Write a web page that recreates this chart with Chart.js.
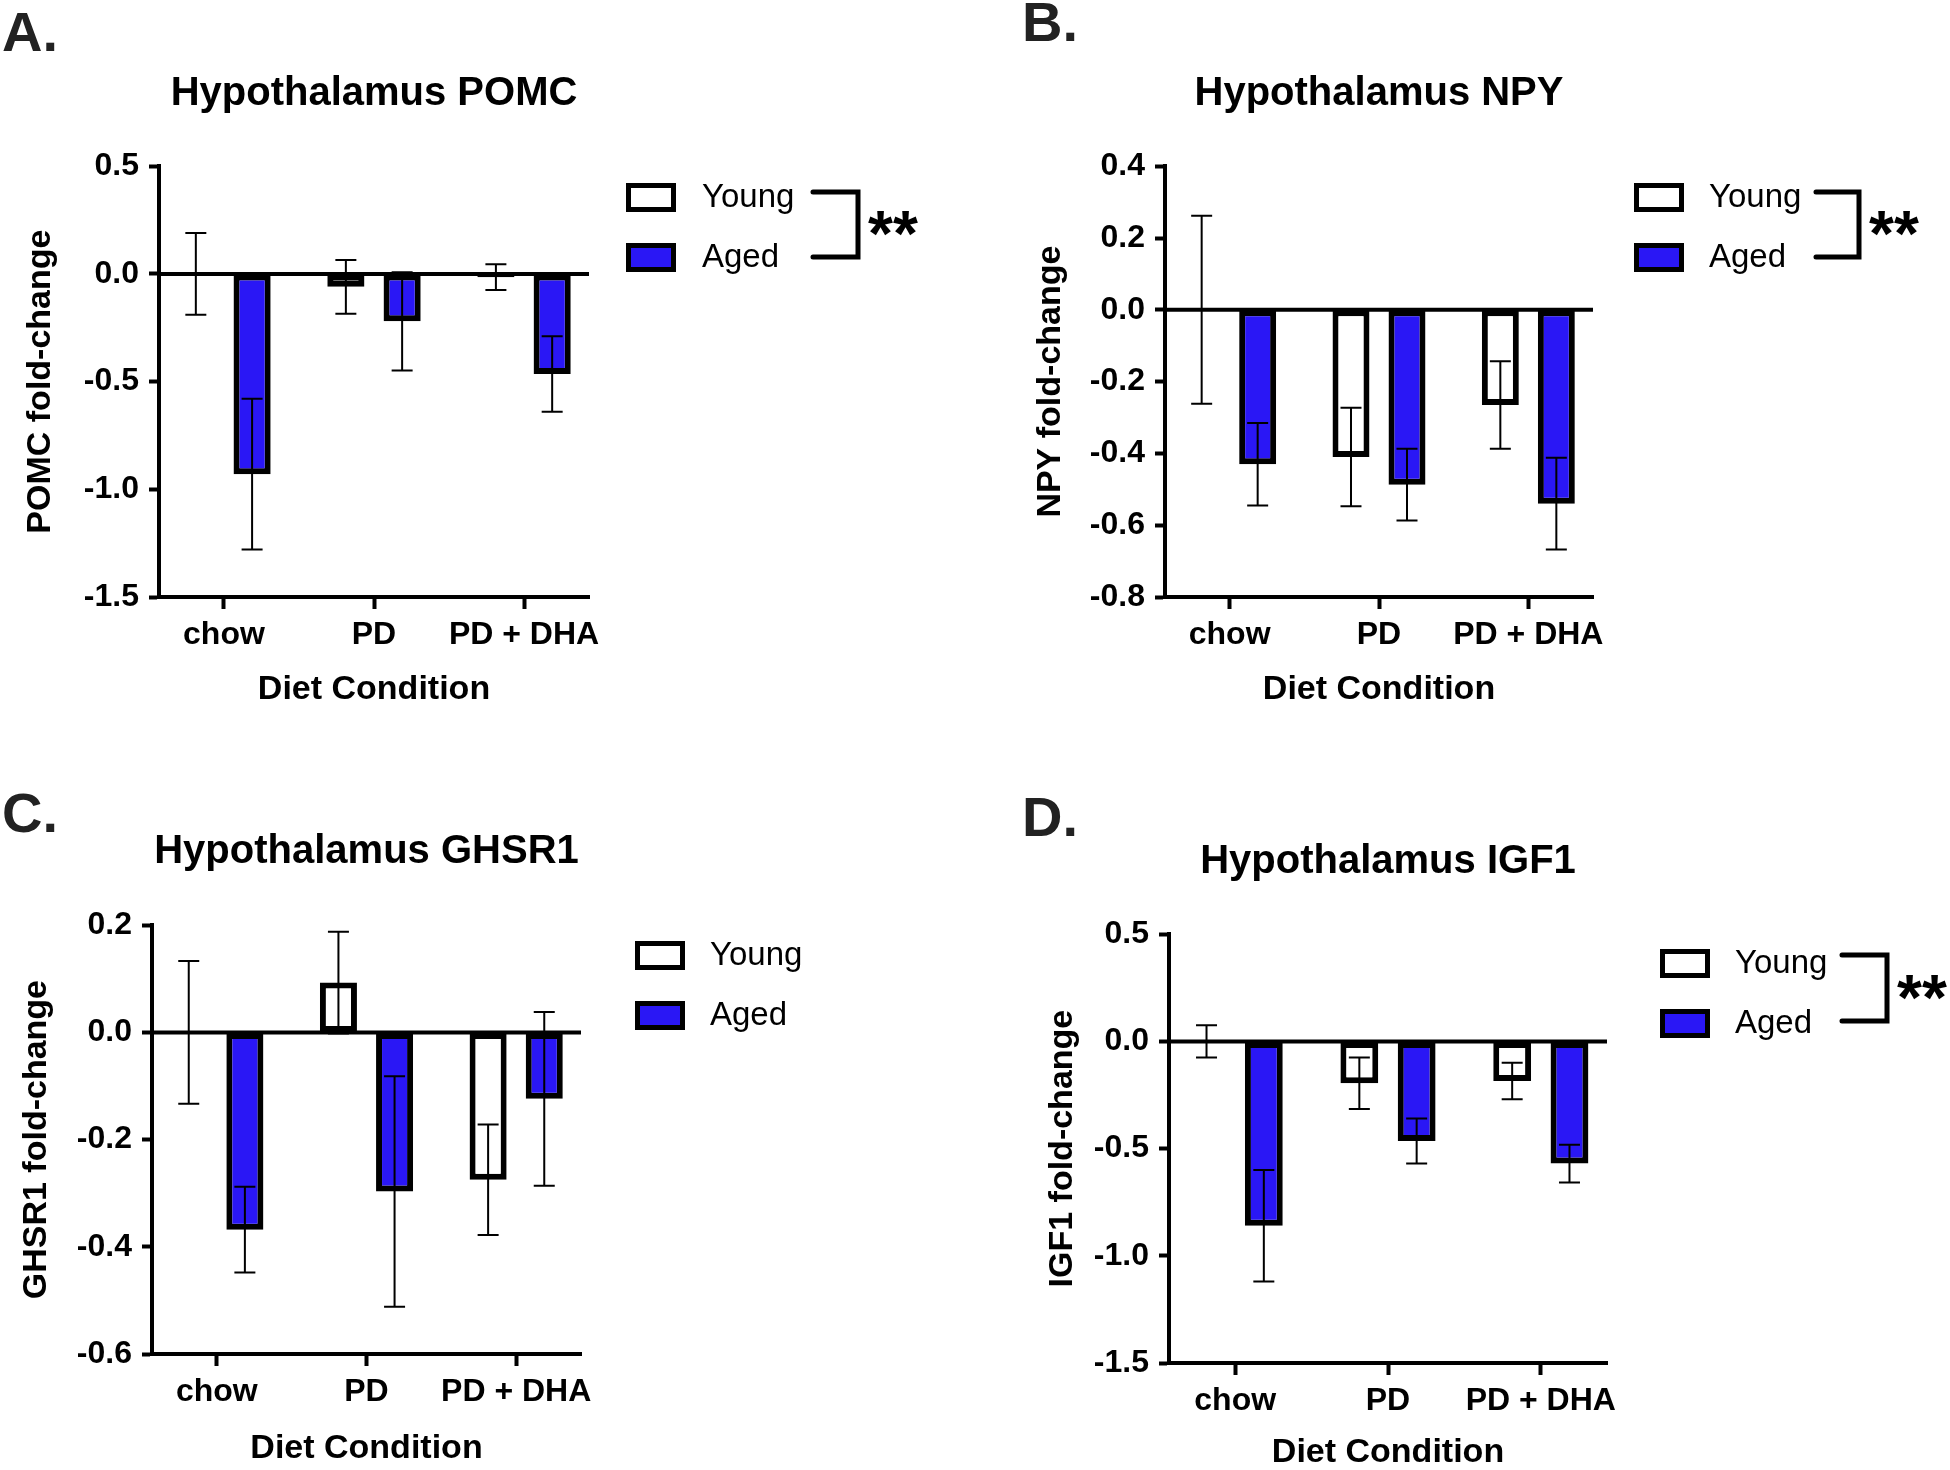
<!DOCTYPE html>
<html lang="en">
<head>
<meta charset="UTF-8" />
<title>Hypothalamus gene expression</title>
<script src="https://cdn.jsdelivr.net/npm/chart.js@4.4.1/dist/chart.umd.min.js"></script>
<style>
  body { margin: 0; background: #fff; width: 1950px; height: 1470px; position: relative; overflow: hidden; }
  canvas { position: absolute; }
</style>
</head>
<body>
<canvas id="panelA" width="975" height="735" style="left:0;top:0"></canvas>
<canvas id="panelB" width="975" height="735" style="left:975px;top:0"></canvas>
<canvas id="panelC" width="975" height="735" style="left:0;top:735px"></canvas>
<canvas id="panelD" width="975" height="735" style="left:975px;top:735px"></canvas>

<script>
const categories = ['chow', 'PD', 'PD + DHA'];
const groups = ['Young', 'Aged'];

// A. POMC
const pomcYoung = [0.00, -0.06, -0.015];
const pomcYoungSem = [0.19, 0.125, 0.06];
const pomcAged = [-0.93, -0.22, -0.465];
const pomcAgedSem = [0.35, 0.228, 0.175];
const pomcTicks = [-1.5, -1.0, -0.5, 0.0, 0.5];

// B. NPY
const npyYoung = [0.00, -0.41, -0.265];
const npyYoungSem = [0.262, 0.137, 0.122];
const npyAged = [-0.43, -0.487, -0.54];
const npyAgedSem = [0.115, 0.1, 0.128];
const npyTicks = [-0.8, -0.6, -0.4, -0.2, 0.0, 0.2, 0.4];

// C. GHSR1
const ghsrYoung = [0.00, 0.093, -0.275];
const ghsrYoungSem = [0.133, 0.095, 0.103];
const ghsrAged = [-0.368, -0.297, -0.124];
const ghsrAgedSem = [0.08, 0.215, 0.162];
const ghsrTicks = [-0.6, -0.4, -0.2, 0.0, 0.2];

// D. IGF1
const igfYoung = [0.00, -0.195, -0.185];
const igfYoungSem = [0.075, 0.12, 0.085];
const igfAged = [-0.86, -0.465, -0.57];
const igfAgedSem = [0.26, 0.105, 0.088];
const igfTicks = [-1.5, -1.0, -0.5, 0.0, 0.5];

const BLUE = '#2a17f5';
const FONT = "'Liberation Sans', Arial, sans-serif";

Chart.defaults.font.family = FONT;
Chart.defaults.color = '#000';

const panels = [
  { id: 'panelA', letter: 'A.', title: 'Hypothalamus POMC', yTitle: 'POMC fold-change',
    young: pomcYoung, youngSem: pomcYoungSem, aged: pomcAged, agedSem: pomcAgedSem, ticks: pomcTicks, stars: '**',
    pad: { left: 24, right: 386, top: 0, bottom: 28 }, yW: 135, xH: 110, tTop: 69.6, tBot: 48.6,
    letterAt: [2, 36], legendAt: [626, 183], textX: 702, bracket: [813, 858, 192, 257], starsX: 868 },
  { id: 'panelB', letter: 'B.', title: 'Hypothalamus NPY', yTitle: 'NPY fold-change',
    young: npyYoung, youngSem: npyYoungSem, aged: npyAged, agedSem: npyAgedSem, ticks: npyTicks, stars: '**',
    pad: { left: 59, right: 357, top: 0, bottom: 28 }, yW: 131, xH: 110, tTop: 69.6, tBot: 48.6,
    letterAt: [47, 26], legendAt: [659, 183], textX: 734, bracket: [841, 884, 192, 257], starsX: 894 },
  { id: 'panelC', letter: 'C.', title: 'Hypothalamus GHSR1', yTitle: 'GHSR1 fold-change',
    young: ghsrYoung, youngSem: ghsrYoungSem, aged: ghsrAged, agedSem: ghsrAgedSem, ticks: ghsrTicks, stars: null,
    pad: { left: 20, right: 394, top: 0, bottom: 4 }, yW: 132, xH: 112, tTop: 92.6, tBot: 49.6,
    letterAt: [2, 82], legendAt: [635, 206], textX: 710, bracket: null, starsX: 0 },
  { id: 'panelD', letter: 'D.', title: 'Hypothalamus IGF1', yTitle: 'IGF1 fold-change',
    young: igfYoung, youngSem: igfYoungSem, aged: igfAged, agedSem: igfAgedSem, ticks: igfTicks, stars: '**',
    pad: { left: 71, right: 343, top: 0, bottom: 0 }, yW: 123, xH: 107, tTop: 102.6, tBot: 48.6,
    letterAt: [47, 86], legendAt: [685, 214], textX: 760, bracket: [867, 912, 220, 286], starsX: 922 }
];

// error bars, zero line, panel letter, legend and significance bracket
const decorations = {
  id: 'decorations',
  afterDatasetsDraw(chart, args, opts) {
    const p = opts.panel;
    const ctx = chart.ctx;
    const y = chart.scales.y;
    const area = chart.chartArea;
    ctx.save();
    ctx.strokeStyle = '#000';
    ctx.lineWidth = 2;
    [[p.young, p.youngSem], [p.aged, p.agedSem]].forEach(([means, sems], di) => {
      chart.getDatasetMeta(di).data.forEach((bar, i) => {
        const top = y.getPixelForValue(means[i] + sems[i]);
        const bot = y.getPixelForValue(means[i] - sems[i]);
        ctx.beginPath();
        ctx.moveTo(bar.x, top); ctx.lineTo(bar.x, bot);
        ctx.moveTo(bar.x - 10.5, top); ctx.lineTo(bar.x + 10.5, top);
        ctx.moveTo(bar.x - 10.5, bot); ctx.lineTo(bar.x + 10.5, bot);
        ctx.stroke();
      });
    });
    const zero = y.getPixelForValue(0);
    ctx.lineWidth = 4;
    ctx.beginPath();
    ctx.moveTo(area.left, zero); ctx.lineTo(area.right, zero);
    ctx.stroke();
    ctx.restore();
  },
  afterDraw(chart, args, opts) {
    const p = opts.panel;
    const ctx = chart.ctx;
    ctx.save();
    ctx.fillStyle = '#222';
    ctx.font = 'bold 56px ' + FONT;
    ctx.textBaseline = 'middle';
    ctx.textAlign = 'left';
    ctx.fillText(p.letter, p.letterAt[0], p.letterAt[1]);

    const [lx, ly] = p.legendAt;
    const fills = ['#fff', BLUE];
    groups.forEach((name, i) => {
      const by = ly + i * 60;
      ctx.fillStyle = fills[i];
      ctx.fillRect(lx, by, 50, 29);
      ctx.strokeStyle = '#000';
      ctx.lineWidth = 5;
      ctx.strokeRect(lx + 2.5, by + 2.5, 45, 24);
      ctx.fillStyle = '#000';
      ctx.font = '33px ' + FONT;
      ctx.fillText(name, p.textX, by + 15);
    });

    if (p.bracket) {
      const [x0, x1, y0, y1] = p.bracket;
      ctx.strokeStyle = '#000';
      ctx.lineWidth = 5;
      ctx.lineCap = 'round';
      ctx.beginPath();
      ctx.moveTo(x0, y0); ctx.lineTo(x1, y0); ctx.lineTo(x1, y1); ctx.lineTo(x0, y1);
      ctx.stroke();
      ctx.font = 'bold 64px ' + FONT;
      ctx.fillText(p.stars, p.starsX, (y0 + y1) / 2 + 14);
    }
    ctx.restore();
  }
};

panels.forEach(p => {
  const ticks = p.ticks;
  const toPoints = vals => vals.map((v, i) => ({ x: i, y: v }));
  new Chart(document.getElementById(p.id), {
    type: 'bar',
    data: {
      datasets: [
        { label: groups[0], data: toPoints(p.young), backgroundColor: '#fff', borderColor: '#000', borderWidth: 6, borderSkipped: false },
        { label: groups[1], data: toPoints(p.aged), backgroundColor: BLUE, borderColor: '#000', borderWidth: 6, borderSkipped: false }
      ]
    },
    options: {
      responsive: false,
      animation: false,
      devicePixelRatio: 1,
      categoryPercentage: 0.75,
      barPercentage: 0.66,
      layout: { padding: p.pad },
      plugins: {
        legend: { display: false },
        tooltip: { enabled: false },
        title: {
          display: true, text: p.title, fullSize: false,
          font: { size: 40, weight: 'bold', lineHeight: 1.2 },
          padding: { top: p.tTop, bottom: p.tBot }
        },
        decorations: { panel: p }
      },
      scales: {
        x: {
          type: 'linear',
          min: -0.433,
          max: categories.length - 1 + 0.433,
          offset: false,
          afterBuildTicks: s => { s.ticks = categories.map((c, i) => ({ value: i })); },
          grid: { display: true, offset: false, drawOnChartArea: false, drawTicks: true, tickLength: 12, tickWidth: 4, tickColor: '#000' },
          border: { display: true, color: '#000', width: 4 },
          ticks: { padding: 7, autoSkip: false, maxRotation: 0, font: { size: 32, weight: 'bold' }, callback: v => categories[v] },
          title: { display: true, text: 'Diet Condition', font: { size: 34, weight: 'bold', lineHeight: 1 }, padding: 0 },
          afterFit: s => { s.height = p.xH; }
        },
        y: {
          min: ticks[0],
          max: ticks[ticks.length - 1],
          afterBuildTicks: s => { s.ticks = ticks.map(v => ({ value: v })); },
          grid: { display: true, drawOnChartArea: false, drawTicks: true, tickLength: 10, tickWidth: 4, tickColor: '#000' },
          border: { display: true, color: '#000', width: 4 },
          ticks: { padding: 10, autoSkip: false, font: { size: 32, weight: 'bold' }, callback: v => v.toFixed(1) },
          title: { display: true, text: p.yTitle, font: { size: 34, weight: 'bold', lineHeight: 1 }, padding: 0 },
          afterFit: s => { s.width = p.yW; }
        }
      }
    },
    plugins: [decorations]
  });
});
</script>
</body>
</html>
